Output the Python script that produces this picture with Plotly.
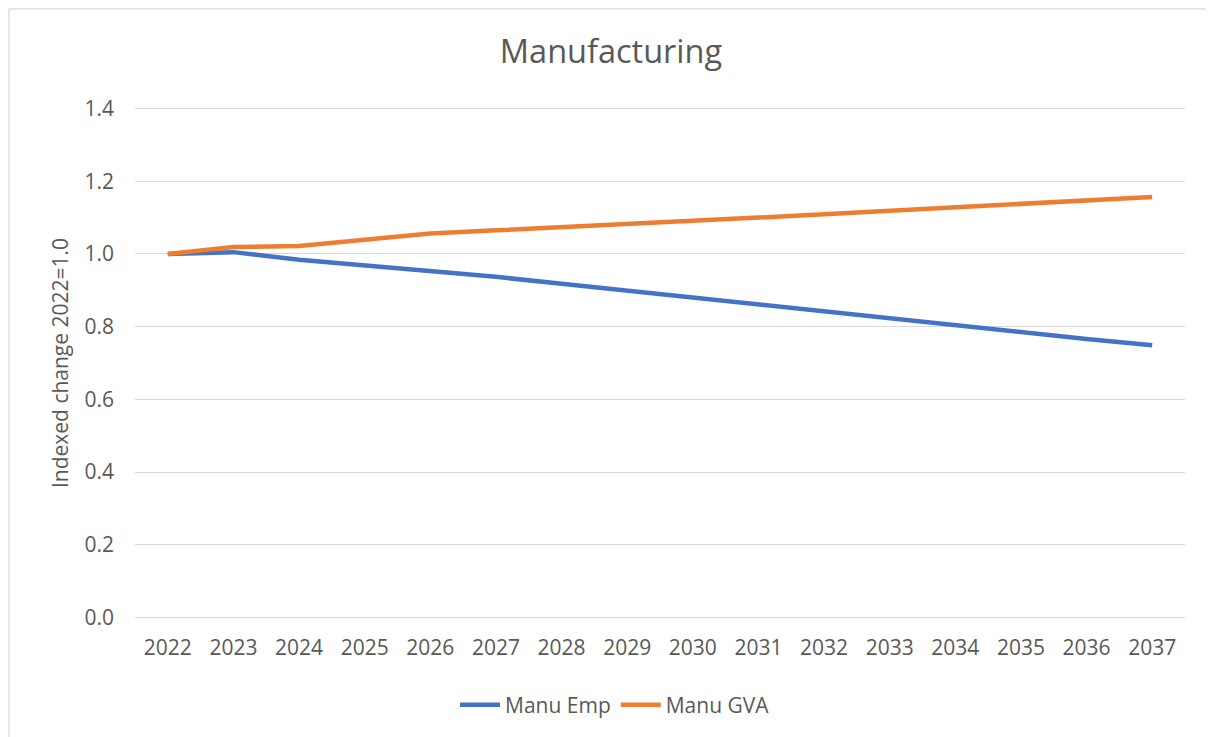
import plotly.graph_objects as go

years = [str(y) for y in range(2022, 2038)]
manu_emp = [1.000, 1.005, 0.984, 0.968, 0.955, 0.937, 0.918, 0.899, 0.880, 0.861,
            0.841, 0.821, 0.802, 0.784, 0.766, 0.749]
manu_gva = [1.000, 1.019, 1.022, 1.040, 1.056, 1.065, 1.073, 1.082, 1.091, 1.100,
            1.109, 1.118, 1.127, 1.136, 1.146, 1.157]
y_ticks = [0.0, 0.2, 0.4, 0.6, 0.8, 1.0, 1.2, 1.4]

OFF = 8  # page body margin
W, H = 1214 - OFF, 737 - OFF
ML, MT = 135 - OFF, 106 - OFF
PR, PB = 1185 - OFF, 620 - OFF
MR, MB = W - PR, H - PB
FONT = "Open Sans"
TXT = "#595959"

fig = go.Figure()
fig.add_trace(go.Scatter(x=years, y=manu_emp, mode="lines", name="Manu Emp",
                         line=dict(color="#4472C4", width=4.5)))
fig.add_trace(go.Scatter(x=years, y=manu_gva, mode="lines", name="Manu GVA",
                         line=dict(color="#ED7D31", width=4.5)))

pw = W - ML - MR
ph = H - MT - MB
def px(x): return (x - OFF - ML) / pw
def py(y): return (H - MB - (y - OFF)) / ph

fig.update_layout(
    width=W, height=H,
    margin=dict(l=ML, r=MR, t=MT, b=MB, autoexpand=False),
    paper_bgcolor="white", plot_bgcolor="white",
    font=dict(family=FONT, size=21, color=TXT),
    title=dict(text="Manufacturing", x=(611 - OFF) / W, xref="container", xanchor="center",
               y=1 - (52 - OFF) / H, yref="container", yanchor="middle",
               font=dict(family=FONT, size=32.5, color=TXT)),
    xaxis=dict(type="category", range=[-0.5, 15.5], showgrid=False, zeroline=False,
               showline=False, ticks="", ticklabelstandoff=13,
               tickfont=dict(family=FONT, size=21, color=TXT)),
    yaxis=dict(range=[-0.007, 1.407], tickvals=y_ticks, tickformat=".1f",
               showgrid=True, gridcolor="#D9D9D9", gridwidth=1.3, zeroline=False,
               showline=False, ticks="", ticklabelstandoff=20,
               tickfont=dict(family=FONT, size=21, color=TXT),
               title=dict(text="Indexed change 2022=1.0", standoff=10,
                          font=dict(family=FONT, size=21, color=TXT))),
    legend=dict(orientation="h", x=px(615), xanchor="center", y=py(705), yanchor="middle",
                font=dict(family=FONT, size=21, color=TXT), itemwidth=40,
                bgcolor="rgba(0,0,0,0)"),
    showlegend=True,
)

# chart area border
fig.add_shape(type="rect", xref="paper", yref="paper",
              x0=px(9), x1=px(1211), y0=py(745), y1=py(8.8),
              line=dict(color="#D9D9D9", width=1.3), fillcolor="rgba(0,0,0,0)", layer="below")

fig.write_html("out.html")
